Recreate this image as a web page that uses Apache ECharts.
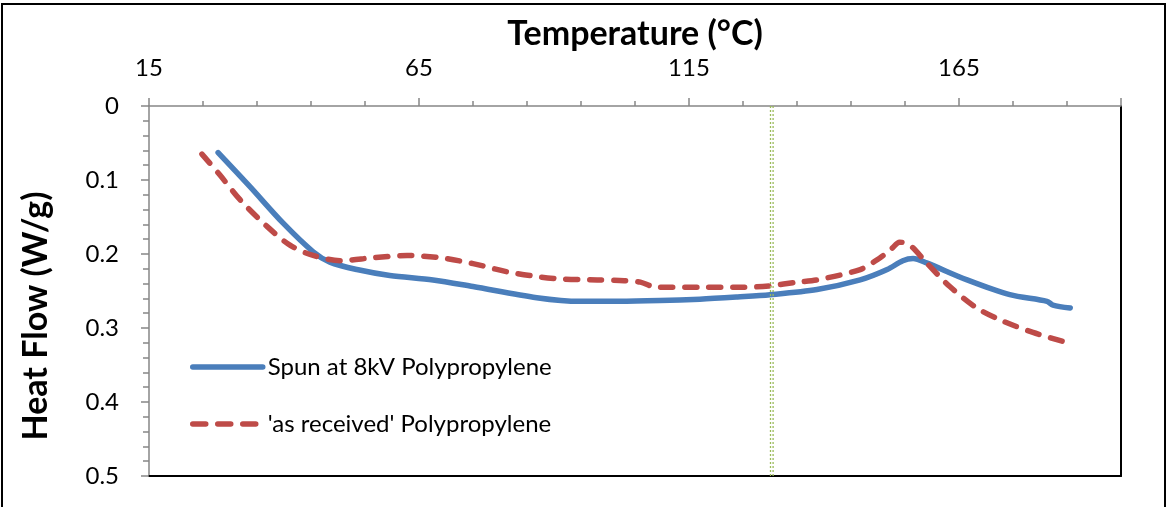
<!DOCTYPE html>
<html>
<head>
<meta charset="utf-8">
<script src="https://cdn.jsdelivr.net/npm/echarts@6/dist/echarts.min.js"></script>
<style>
  html, body { margin: 0; padding: 0; background: #fff; }
  #chart { width: 1166px; height: 507px; }
</style>
</head>
<body>
<div id="chart"></div>
<script>
// Data
const seriesNames = ["Spun at 8kV Polypropylene", "'as received' Polypropylene"];

const spunT = [27.8, 33.7, 39.8, 45.4, 48.5, 53.5, 59.6, 67.6, 75, 86.8, 94.8, 102, 109.6, 117, 124, 130, 138.7, 146.7, 151.7, 154.6, 156.5, 159, 166.5, 174.4, 181.3, 182.4, 185.6];
const spunV = [0.063, 0.109, 0.158, 0.197, 0.211, 0.221, 0.229, 0.235, 0.244, 0.259, 0.264, 0.264, 0.263, 0.261, 0.258, 0.255, 0.248, 0.235, 0.221, 0.209, 0.206, 0.212, 0.235, 0.255, 0.264, 0.269, 0.273];

const recvT = [24.8, 28.1, 31.9, 36.9, 41.1, 45.4, 50.4, 56.5, 62.8, 68.9, 75, 81.3, 87.4, 92, 98, 103, 106, 109, 118, 125, 130, 135, 138.7, 146.7, 150.4, 152.5, 154, 155.9, 159, 163.3, 168.3, 172.6, 178.7, 185.6];
const recvV = [0.065, 0.093, 0.127, 0.163, 0.188, 0.202, 0.209, 0.205, 0.202, 0.205, 0.213, 0.224, 0.231, 0.234, 0.235, 0.236, 0.238, 0.245, 0.245, 0.245, 0.243, 0.238, 0.235, 0.221, 0.205, 0.193, 0.184, 0.188, 0.212, 0.244, 0.273, 0.289, 0.306, 0.321];

const markerT = 130;          // vertical reference line (°C)
const xTickLabels = [15, 65, 115, 165];
const yTickLabels = [0, 0.1, 0.2, 0.3, 0.4, 0.5];

const FONT = 'Lato, "Open Sans", sans-serif';
const GRAY = '#868686';
const BLUE = '#4A7EBB';
const RED = '#BE4B48';

const chart = echarts.init(document.getElementById('chart'), null, { renderer: 'canvas' });

const spunData = spunT.map((t, i) => [t, spunV[i]]);
const recvData = recvT.map((t, i) => [t, recvV[i]]);

const option = {
  backgroundColor: '#fff',
  animation: false,
  textStyle: { fontFamily: FONT },
  graphic: [{
    type: 'rect',
    shape: { x: 2, y: 4, width: 1163, height: 520 },
    style: { fill: 'none', stroke: '#000', lineWidth: 2 },
    silent: true
  }],
  grid: { left: 149, top: 106, right: 45, bottom: 31, containLabel: false },
  legend: {
    orient: 'vertical',
    left: 185,
    top: 350,
    itemWidth: 70,
    itemHeight: 24,
    itemGap: 33,
    data: [
      { name: seriesNames[0], lineStyle: { color: BLUE, width: 5.5, type: 'solid', cap: 'round' } },
      { name: seriesNames[1], lineStyle: { color: RED, width: 5.5, type: [13, 12], cap: 'round' } }
    ],
    itemStyle: { opacity: 0 },
    textStyle: { fontFamily: FONT, fontSize: 24, color: '#000', lineHeight: 24 }
  },
  xAxis: [
    {
      type: 'value', position: 'top', min: 15, max: 195, interval: 50,
      name: 'Temperature (°C)', nameLocation: 'middle', nameGap: 54,
      nameTextStyle: { fontFamily: FONT, fontSize: 34, fontWeight: 'bold', color: '#000' },
      axisLine: { show: true, lineStyle: { color: GRAY, width: 1.5 } },
      axisTick: { show: true, length: 8, lineStyle: { color: GRAY, width: 1.5 } },
      axisLabel: {
        fontFamily: FONT, fontSize: 24, color: '#000', margin: 26,
        formatter: v => (xTickLabels.indexOf(v) >= 0 ? String(v) : '')
      },
      splitLine: { show: false }
    },
    {
      type: 'value', position: 'top', min: 15, max: 195, interval: 10,
      axisLine: { show: false },
      axisTick: { show: true, length: 5, lineStyle: { color: GRAY, width: 1.5 } },
      axisLabel: { show: false },
      splitLine: { show: false }
    },
    {
      type: 'value', position: 'bottom', min: 15, max: 195,
      axisLine: { show: true, onZero: false, lineStyle: { color: '#000', width: 2 } },
      axisTick: { show: false }, axisLabel: { show: false }, splitLine: { show: false }
    }
  ],
  yAxis: [
    {
      type: 'value', position: 'left', inverse: true, min: 0, max: 0.5, interval: 0.1,
      name: 'Heat Flow (W/g)', nameLocation: 'middle', nameGap: 96, nameRotate: 90,
      nameTextStyle: { fontFamily: FONT, fontSize: 34, fontWeight: 'bold', color: '#000', padding: [0, 50, 0, 0] },
      axisLine: { show: true, onZero: false, lineStyle: { color: GRAY, width: 1.5 } },
      axisTick: { show: true, length: 8, lineStyle: { color: GRAY, width: 1.5 } },
      minorTick: { show: true, splitNumber: 5, length: 6, lineStyle: { color: GRAY, width: 1.5 } },
      axisLabel: {
        fontFamily: FONT, fontSize: 24, color: '#000', margin: 30,
        formatter: v => {
          const r = Math.round(v * 10) / 10;
          return yTickLabels.indexOf(r) >= 0 ? String(r) : '';
        }
      },
      splitLine: { show: false }
    },
    {
      type: 'value', position: 'right', inverse: true, min: 0, max: 0.5,
      axisLine: { show: true, onZero: false, lineStyle: { color: '#000', width: 2 } },
      axisTick: { show: false }, axisLabel: { show: false }, splitLine: { show: false }
    }
  ],
  series: [
    {
      name: seriesNames[0], type: 'line', xAxisIndex: 0, yAxisIndex: 0,
      data: spunData, smooth: 0.3, showSymbol: false, symbol: 'none',
      lineStyle: { color: BLUE, width: 5.5, cap: 'round', join: 'round' },
      itemStyle: { color: BLUE },
      z: 3,
      markLine: {
        silent: true, symbol: ['none', 'none'],
        label: { show: false },
        lineStyle: {
          color: '#9BBB59', width: 1.3, type: [2, 2],
          shadowColor: '#9BBB59', shadowBlur: 0, shadowOffsetX: 2.6
        },
        data: [{ xAxis: markerT }]
      }
    },
    {
      name: seriesNames[1], type: 'line', xAxisIndex: 0, yAxisIndex: 0,
      data: recvData, smooth: 0.3, showSymbol: false, symbol: 'none',
      lineStyle: { color: RED, width: 5.5, type: [12, 12], cap: 'round', join: 'round' },
      itemStyle: { color: RED },
      z: 4
    }
  ]
};

chart.setOption(option);
</script>
</body>
</html>
